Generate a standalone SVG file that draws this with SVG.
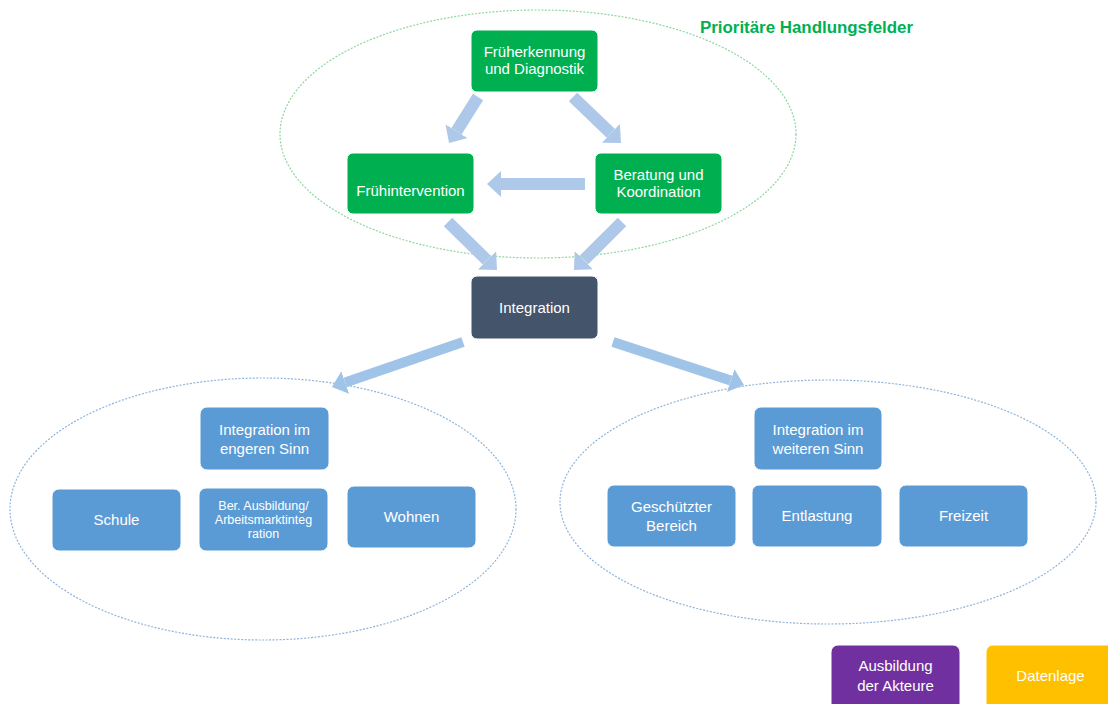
<svg xmlns="http://www.w3.org/2000/svg" width="1108" height="704" viewBox="0 0 1108 704">
<style>
.box{stroke:#ffffff;stroke-width:1}
.g{fill:#00b050}
.b{fill:#5b9bd5}
.t{font-family:"Liberation Sans",Arial,sans-serif;font-size:15px;fill:#ffffff;text-anchor:middle}
.ts{font-family:"Liberation Sans",Arial,sans-serif;font-size:12.5px;fill:#ffffff;text-anchor:middle}
.arr{stroke:#aec8e9;stroke-width:12;fill:none}
.arr2{stroke:#9fc4e8;stroke-width:10;fill:none}
</style>
<defs>
<marker id="ah" markerUnits="userSpaceOnUse" markerWidth="16" markerHeight="28" refX="0" refY="13" orient="auto">
<path d="M0,0 L14,13 L0,26 z" fill="#aec8e9"/>
</marker>
<marker id="ah2" markerUnits="userSpaceOnUse" markerWidth="16" markerHeight="28" refX="0" refY="12" orient="auto">
<path d="M0,0 L14,12 L0,24 z" fill="#9fc4e8"/>
</marker>
</defs>
<rect width="1108" height="704" fill="#ffffff"/>
<g id="groups">
<ellipse cx="538" cy="134" rx="258" ry="124" fill="none" stroke="#8fd6a0" stroke-width="1.2" stroke-dasharray="2,1.5"/>
<ellipse cx="263" cy="509" rx="253" ry="131" fill="none" stroke="#8fb4db" stroke-width="1.2" stroke-dasharray="2,1.5"/>
<ellipse cx="828" cy="502" rx="268" ry="122" fill="none" stroke="#8fb4db" stroke-width="1.2" stroke-dasharray="2,1.5"/>
<text x="700" y="33" font-family="Liberation Sans,Arial,sans-serif" font-size="16" font-weight="bold" fill="#00b050" textLength="213" lengthAdjust="spacingAndGlyphs">Prioritäre Handlungsfelder</text>
</g>
<g id="connectors">
<line class="arr" x1="478" y1="97" x2="456.5" y2="131.2" marker-end="url(#ah)"/>
<line class="arr" x1="573" y1="97" x2="610.9" y2="133.3" marker-end="url(#ah)"/>
<line class="arr" x1="585" y1="184" x2="501" y2="184" marker-end="url(#ah)"/>
<line class="arr" x1="448" y1="222" x2="487" y2="260.2" marker-end="url(#ah)"/>
<line class="arr" x1="622" y1="222" x2="583.9" y2="260.1" marker-end="url(#ah)"/>
<line class="arr2" x1="463" y1="342" x2="345.2" y2="382.5" marker-end="url(#ah2)"/>
<line class="arr2" x1="613" y1="342" x2="730.7" y2="380.6" marker-end="url(#ah2)"/>
</g>
<g id="n-frueherkennung">
<rect class="box g" x="471" y="30" width="127" height="62" rx="6"/>
<text class="t" x="534.5" y="57">Früherkennung</text>
<text class="t" x="534.5" y="74">und Diagnostik</text>
</g>
<g id="n-fruehintervention">
<rect class="box g" x="347" y="153" width="127" height="61" rx="6"/>
<text class="t" x="410.5" y="196">Frühintervention</text>
</g>
<g id="n-beratung">
<rect class="box g" x="595" y="153" width="127" height="61" rx="6"/>
<text class="t" x="658.5" y="180">Beratung und</text>
<text class="t" x="658.5" y="197">Koordination</text>
</g>
<g id="n-integration">
<rect class="box" fill="#44546a" x="471" y="276" width="127" height="63" rx="6"/>
<text class="t" x="534.5" y="313">Integration</text>
</g>
<g id="n-engeren">
<rect class="box b" x="200" y="407" width="129" height="63" rx="7"/>
<text class="t" x="264.5" y="435">Integration im</text>
<text class="t" x="264.5" y="454">engeren Sinn</text>
</g>
<g id="n-schule">
<rect class="box b" x="52" y="489" width="129" height="62" rx="7"/>
<text class="t" x="116.5" y="525">Schule</text>
</g>
<g id="n-ausbildung">
<rect class="box b" x="199" y="488" width="129" height="63" rx="7"/>
<text class="ts" x="263.5" y="510">Ber. Ausbildung/</text>
<text class="ts" x="263.5" y="524">Arbeitsmarktinteg</text>
<text class="ts" x="263.5" y="538">ration</text>
</g>
<g id="n-wohnen">
<rect class="box b" x="347" y="486" width="129" height="62" rx="7"/>
<text class="t" x="411.5" y="522">Wohnen</text>
</g>
<g id="n-weiteren">
<rect class="box b" x="754" y="407" width="128" height="63" rx="7"/>
<text class="t" x="818" y="435">Integration im</text>
<text class="t" x="818" y="454">weiteren Sinn</text>
</g>
<g id="n-geschuetzt">
<rect class="box b" x="607" y="485" width="129" height="62" rx="7"/>
<text class="t" x="671.5" y="512">Geschützter</text>
<text class="t" x="671.5" y="531">Bereich</text>
</g>
<g id="n-entlastung">
<rect class="box b" x="752" y="485" width="130" height="62" rx="7"/>
<text class="t" x="817" y="521">Entlastung</text>
</g>
<g id="n-freizeit">
<rect class="box b" x="899" y="485" width="129" height="62" rx="7"/>
<text class="t" x="963.5" y="521">Freizeit</text>
</g>
<g id="n-akteure">
<rect class="box" fill="#7030a0" x="831" y="645" width="129" height="66" rx="7"/>
<text class="t" x="895.5" y="671">Ausbildung</text>
<text class="t" x="895.5" y="691">der Akteure</text>
</g>
<g id="n-datenlage">
<rect class="box" fill="#ffc000" x="986" y="645" width="129" height="66" rx="7"/>
<text class="t" x="1050.5" y="681">Datenlage</text>
</g>
</svg>
